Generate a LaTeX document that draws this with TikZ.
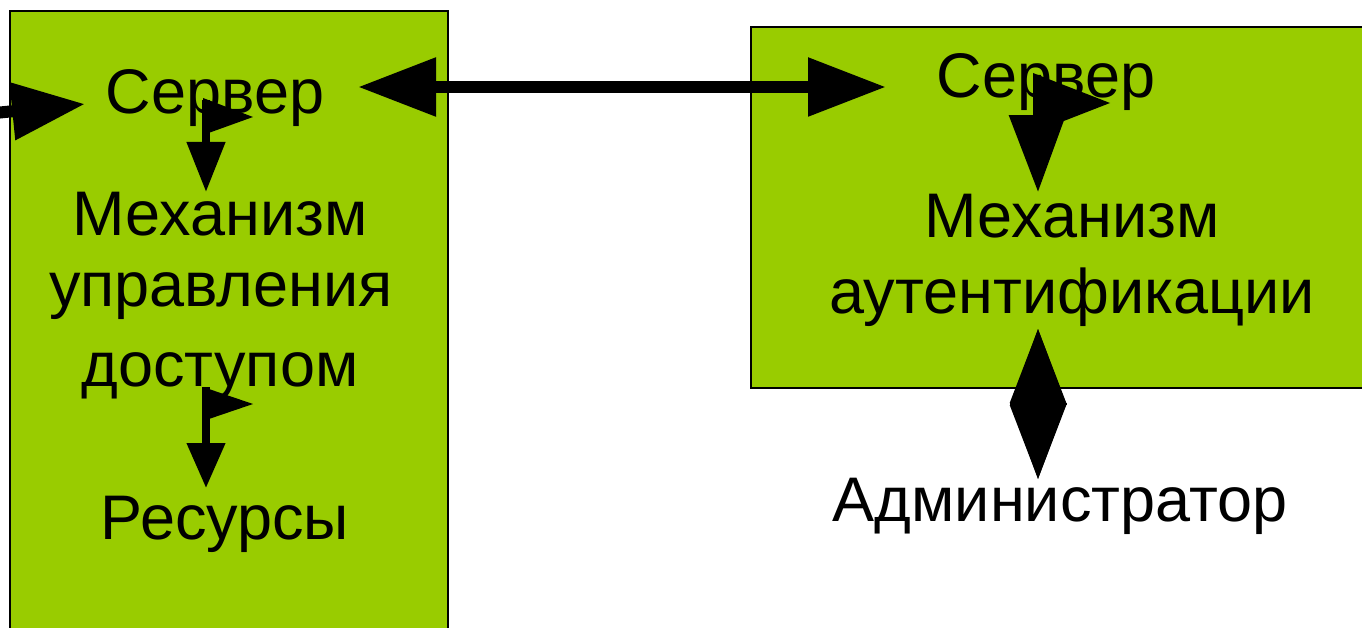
\documentclass[tikz,border=0pt]{standalone}
\usepackage{fontspec}
\setmainfont{Liberation Sans}
\usetikzlibrary{arrows.meta}
\definecolor{boxgreen}{HTML}{99CC00}
\tikzset{
  panel/.style={fill=boxgreen,draw=black,line width=1.5pt},
  lbl/.style={anchor=base,inner sep=0pt,font=\fontsize{63}{75}\selectfont},
  bigtip/.tip={Triangle[length=78pt,width=56pt]},
  smalltip/.tip={Triangle[length=50pt,width=37pt]},
}
\begin{document}
\begin{tikzpicture}[x=1pt,y=-1pt]
\useasboundingbox (0,0) rectangle (1362,628);
% boxes
\path[panel] (10,11) rectangle (448,640);
\path[panel] (751,27) rectangle (1370,388);
% labels
\node[lbl] (srvL) at (215,114) {Сервер};
\node[lbl] (mechL1) at (220,236) {Механизм};
\node[lbl] (mechL2) at (221,306) {управления};
\node[lbl] (mechL3) at (220,386) {доступом};
\node[lbl] (res) at (225,539) {Ресурсы};
\node[lbl] (srvR) at (1046,98) {Сервер};
\node[lbl] (mechR1) at (1072,238) {Механизм};
\node[lbl] (mechR2) at (1072,313) {аутентификации};
\node[lbl] (adm) at (1060,521) {Администратор};
% connector coordinates
\coordinate (inS) at (-5,113);
\coordinate (inE) at (85,104);
\coordinate (lnkA) at (358,87);
\coordinate (lnkB) at (886,87);
\coordinate (f1s) at (206,100);
\coordinate (f1e) at (206,192);
\coordinate (f2s) at (206,387);
\coordinate (f2e) at (206,488);
\coordinate (f3s) at (1037,75);
\coordinate (f3e) at (1038,192);
\coordinate (dA) at (1038,329);
\coordinate (dB) at (1038,479);
\coordinate (dL) at (1011,404);
\coordinate (dR) at (1066,404);
% connectors
\draw[line width=12pt,-{Triangle[length=73pt,width=55pt]}] (inS) -- (inE);
\draw[line width=12pt,bigtip-bigtip] (lnkA) -- (lnkB);
\draw[line width=7.5pt,-smalltip] (f1s) -- (f1e);
\fill (203,98) -- (253,117) -- (203,135) -- cycle;
\draw[line width=7.5pt,-{Triangle[length=45pt,width=37pt]}] (f2s) -- (f2e);
\fill (203,387) -- (253,404) -- (203,421) -- cycle;
\draw[line width=8pt,-{Triangle[length=77pt,width=55pt]}] (f3s) -- (f3e);
\fill (1033,73) -- (1110,103) -- (1033,133) -- cycle;
\fill (dA) -- (dR) -- (dB) -- (dL) -- cycle;
\draw[line width=1.5pt] ([xshift=-1pt]dL) -- ([xshift=1pt]dR);
\draw[line width=6pt,{Triangle[length=74pt,width=55pt]}-{Triangle[length=74pt,width=55pt]}] (dA) -- (dB);
\end{tikzpicture}
\end{document}
